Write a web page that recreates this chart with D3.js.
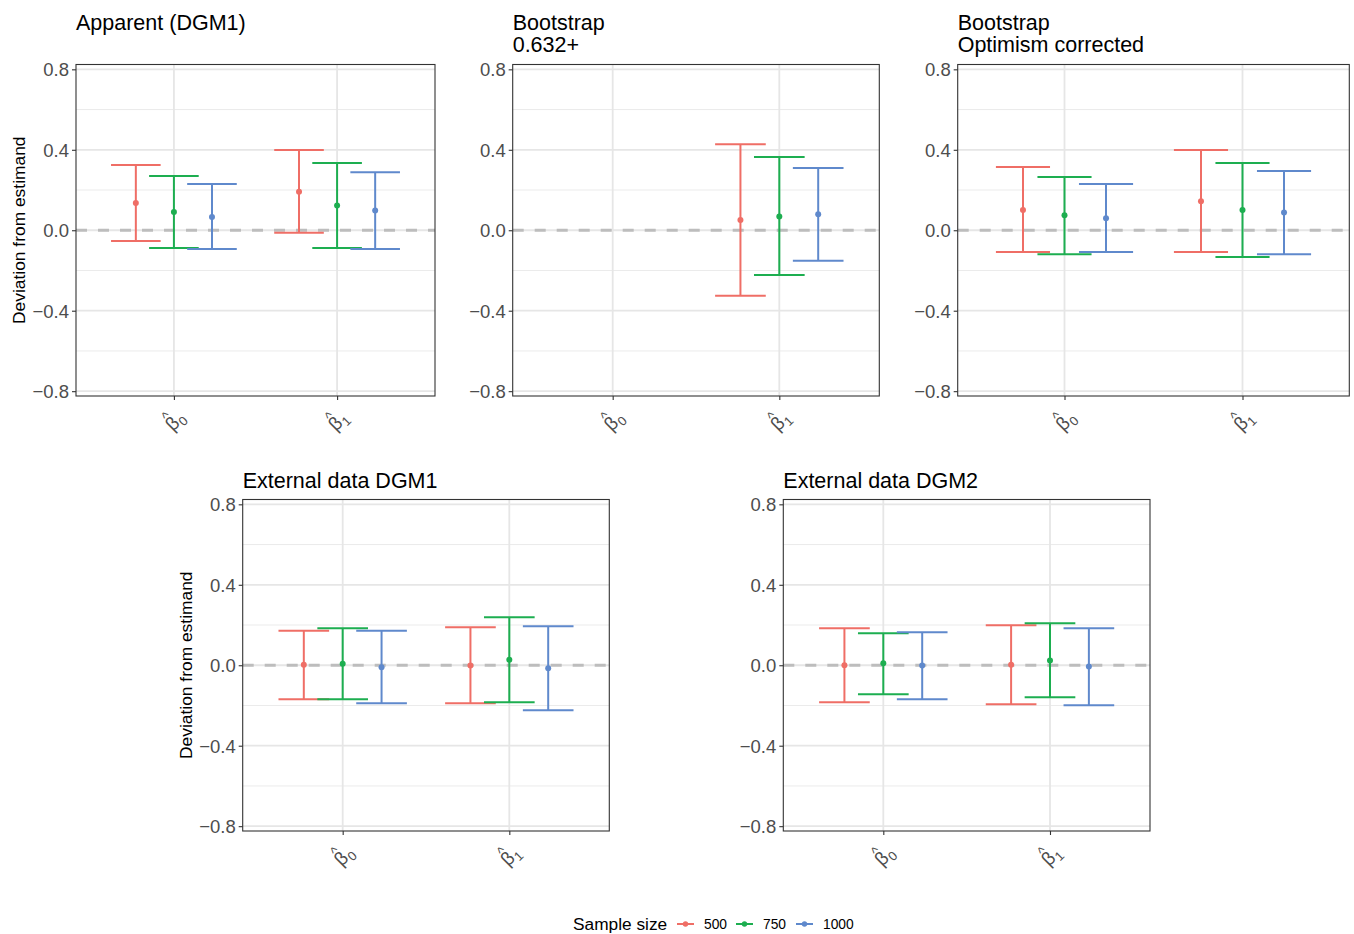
<!DOCTYPE html>
<html>
<head>
<meta charset="utf-8">
<script src="https://cdn.jsdelivr.net/npm/d3@7/dist/d3.min.js"></script>
<style>
  body { margin: 0; background: #fff; }
  text { font-family: "Liberation Sans", Arial, sans-serif; }
</style>
</head>
<body>
<svg id="chart" width="1354" height="934"></svg>
<script>
// Categories
var params = ["b0", "b1"];
var sampleSizes = ["500", "750", "1000"];
var colors = ["#EF6E66", "#1DAE50", "#5F89CC"];
var yTicks = [-0.8, -0.4, 0, 0.4, 0.8];
var yMinor = [-0.6, -0.2, 0.2, 0.6];

// Values per panel, order: b0 (500, 750, 1000), then b1 (500, 750, 1000)
var apparentEst = [0.136, 0.091, 0.066, 0.192, 0.123, 0.098];
var apparentLow = [-0.053, -0.088, -0.093, -0.013, -0.088, -0.093];
var apparentHigh = [0.325, 0.270, 0.230, 0.399, 0.334, 0.288];

var boot632Est = [null, null, null, 0.051, 0.068, 0.080];
var boot632Low = [null, null, null, -0.326, -0.222, -0.152];
var boot632High = [null, null, null, 0.427, 0.364, 0.310];

var bootOptEst = [0.101, 0.075, 0.060, 0.144, 0.101, 0.088];
var bootOptLow = [-0.108, -0.119, -0.108, -0.108, -0.133, -0.119];
var bootOptHigh = [0.315, 0.265, 0.230, 0.399, 0.334, 0.295];

var ext1Est = [0.002, 0.007, -0.010, -0.001, 0.027, -0.015];
var ext1Low = [-0.169, -0.169, -0.189, -0.189, -0.184, -0.224];
var ext1High = [0.172, 0.184, 0.172, 0.189, 0.239, 0.194];

var ext2Est = [0.000, 0.010, -0.001, 0.003, 0.023, -0.006];
var ext2Low = [-0.184, -0.144, -0.169, -0.194, -0.159, -0.199];
var ext2High = [0.184, 0.159, 0.164, 0.199, 0.209, 0.184];

// Panel layout
var panels = [
  { title: ["Apparent (DGM1)"], est: apparentEst, low: apparentLow, high: apparentHigh,
    x0: 76, x1: 435, y0: 64.5, y1: 396, titleY: 29.5, ylab: true },
  { title: ["Bootstrap", "0.632+"], est: boot632Est, low: boot632Low, high: boot632High,
    x0: 512.7, x1: 879.3, y0: 64.5, y1: 396, titleY: 29.5, ylab: false },
  { title: ["Bootstrap", "Optimism corrected"], est: bootOptEst, low: bootOptLow, high: bootOptHigh,
    x0: 957.7, x1: 1349.3, y0: 64.5, y1: 396, titleY: 29.5, ylab: false },
  { title: ["External data DGM1"], est: ext1Est, low: ext1Low, high: ext1High,
    x0: 242.7, x1: 609.3, y0: 499.5, y1: 831, titleY: 487.5, ylab: true },
  { title: ["External data DGM2"], est: ext2Est, low: ext2Low, high: ext2High,
    x0: 783.3, x1: 1150, y0: 499.5, y1: 831, titleY: 487.5, ylab: false }
];

var svg = d3.select("#chart");

panels.forEach(function(p) {
  var g = svg.append("g");

  var x = d3.scalePoint().domain(params).range([p.x0, p.x1]).padding(0.6);
  var y = d3.scaleLinear().domain([-0.824, 0.824]).range([p.y1, p.y0]);
  var step = x.step();
  var dodge = 0.2333 * step;
  var capHalf = 0.152 * step;

  // grid
  g.selectAll(".minor").data(yMinor).enter().append("line")
    .attr("x1", p.x0).attr("x2", p.x1)
    .attr("y1", d => y(d)).attr("y2", d => y(d))
    .attr("stroke", "#EBEBEB").attr("stroke-width", 1);
  g.selectAll(".major").data(yTicks).enter().append("line")
    .attr("x1", p.x0).attr("x2", p.x1)
    .attr("y1", d => y(d)).attr("y2", d => y(d))
    .attr("stroke", "#E6E6E6").attr("stroke-width", 1.8);
  g.selectAll(".vmajor").data(params).enter().append("line")
    .attr("x1", d => x(d)).attr("x2", d => x(d))
    .attr("y1", p.y0).attr("y2", p.y1)
    .attr("stroke", "#E6E6E6").attr("stroke-width", 1.8);

  // zero reference line
  g.append("line")
    .attr("x1", p.x0).attr("x2", p.x1)
    .attr("y1", y(0)).attr("y2", y(0))
    .attr("stroke", "#BDBDBD").attr("stroke-width", 3)
    .attr("stroke-dasharray", "11,11");

  // error bars
  var rows = [];
  params.forEach(function(par, i) {
    sampleSizes.forEach(function(s, j) {
      var k = i * 3 + j;
      if (p.est[k] == null) return;
      rows.push({ par: par, j: j, est: p.est[k], low: p.low[k], high: p.high[k] });
    });
  });

  var bars = g.selectAll(".bar").data(rows).enter().append("g")
    .attr("stroke", d => colors[d.j]).attr("fill", d => colors[d.j]);
  var cx = d => x(d.par) + (d.j - 1) * dodge;
  bars.append("line")
    .attr("x1", cx).attr("x2", cx)
    .attr("y1", d => y(d.low)).attr("y2", d => y(d.high))
    .attr("stroke-width", 2);
  bars.append("line")
    .attr("x1", d => cx(d) - capHalf).attr("x2", d => cx(d) + capHalf)
    .attr("y1", d => y(d.low)).attr("y2", d => y(d.low))
    .attr("stroke-width", 2);
  bars.append("line")
    .attr("x1", d => cx(d) - capHalf).attr("x2", d => cx(d) + capHalf)
    .attr("y1", d => y(d.high)).attr("y2", d => y(d.high))
    .attr("stroke-width", 2);
  bars.append("circle")
    .attr("cx", cx).attr("cy", d => y(d.est))
    .attr("r", 3).attr("stroke", "none");

  // panel border
  g.append("rect")
    .attr("x", p.x0).attr("y", p.y0)
    .attr("width", p.x1 - p.x0).attr("height", p.y1 - p.y0)
    .attr("fill", "none").attr("stroke", "#333333").attr("stroke-width", 1.1);

  // y axis
  var yAxis = g.append("g")
    .attr("transform", `translate(${p.x0},0)`)
    .call(d3.axisLeft(y).tickValues(yTicks).tickSize(4).tickPadding(3)
      .tickFormat(d => d3.format(".1f")(d).replace("-", "\u2212")));
  yAxis.select(".domain").remove();
  yAxis.selectAll(".tick line").attr("stroke", "#333333").attr("stroke-width", 1.1);
  yAxis.selectAll(".tick text").attr("fill", "#4D4D4D")
    .style("font-size", "18.5px").attr("dy", "0.36em");

  // x axis
  var xAxis = g.append("g")
    .attr("transform", `translate(0,${p.y1})`)
    .call(d3.axisBottom(x).tickSize(4).tickFormat(""));
  xAxis.select(".domain").remove();
  xAxis.selectAll(".tick line").attr("stroke", "#333333").attr("stroke-width", 1.1);

  // x tick labels: hat(beta)[i], rotated 45 degrees
  params.forEach(function(par, i) {
    var lab = g.append("g")
      .attr("transform", `translate(${x(par) - 1},${p.y1 + 36}) rotate(-45)`)
      .attr("fill", "#4D4D4D");
    lab.append("text").attr("x", 0).attr("y", 0)
      .style("font-size", "19px").text("\u03B2");
    lab.append("text").attr("x", 11.5).attr("y", 4)
      .style("font-size", "13px").text(i);
    lab.append("text").attr("x", 3).attr("y", -11)
      .style("font-size", "14px").text("^");
  });

  // titles
  p.title.forEach(function(line, i) {
    svg.append("text")
      .attr("x", p.x0).attr("y", p.titleY + i * 22.7)
      .attr("fill", "#000").style("font-size", "21.5px")
      .text(line);
  });

  if (p.ylab) {
    svg.append("text")
      .attr("transform", `translate(${p.x0 - 51},${(p.y0 + p.y1) / 2}) rotate(-90)`)
      .attr("text-anchor", "middle")
      .attr("fill", "#000").style("font-size", "17.4px")
      .text("Deviation from estimand");
  }
});

// legend
var legend = svg.append("g");
legend.append("text")
  .attr("x", 573).attr("y", 930)
  .style("font-size", "17.3px").attr("fill", "#000")
  .text("Sample size");
var keyX = [677, 736, 796];
sampleSizes.forEach(function(s, j) {
  legend.append("line")
    .attr("x1", keyX[j]).attr("x2", keyX[j] + 17)
    .attr("y1", 924).attr("y2", 924)
    .attr("stroke", colors[j]).attr("stroke-width", 2);
  legend.append("circle")
    .attr("cx", keyX[j] + 8.5).attr("cy", 924).attr("r", 2.7)
    .attr("fill", colors[j]);
  legend.append("text")
    .attr("x", keyX[j] + 27).attr("y", 929)
    .style("font-size", "13.8px").attr("fill", "#000")
    .text(s);
});
</script>
</body>
</html>
